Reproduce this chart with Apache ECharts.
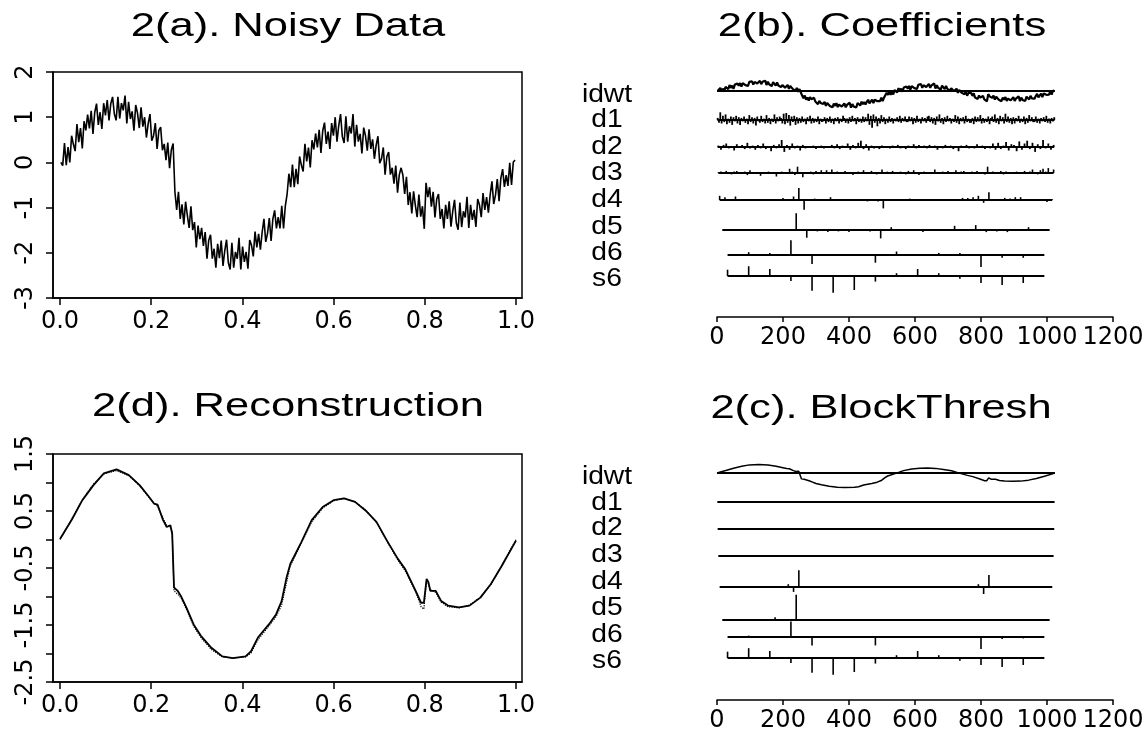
<!DOCTYPE html>
<html>
<head>
<meta charset="utf-8">
<script src="https://cdn.jsdelivr.net/npm/echarts@6/dist/echarts.min.js"></script>
<style>
html, body { margin: 0; padding: 0; background: #fff; }
#main { width: 1148px; height: 736px; }
</style>
</head>
<body>
<div id="main"></div>
<script>
// ---- data ----
// 2(a) noisy signal, evenly spaced on [0,1]
var noisyData = [
    0.0,-0.07,0.43,-0.06,0.34,0.0,0.59,0.40,0.25,0.85,0.45,0.76,0.31,0.91,0.71,1.06,
    0.75,1.14,0.63,1.11,1.30,0.83,1.11,0.74,1.31,1.04,1.38,0.93,1.30,1.45,1.07,0.93,
    1.45,0.97,1.31,1.15,1.48,0.86,1.34,0.96,1.13,0.70,1.27,1.09,0.76,1.22,0.79,1.00,
    0.55,0.86,1.07,0.48,0.59,0.87,0.30,0.71,0.78,0.27,0.41,0.05,0.44,-0.13,0.28,0.42,
    -0.65,-1.05,-0.65,-1.25,-0.93,-1.37,-0.87,-1.18,-1.45,-0.97,-1.50,-1.32,-1.88,-1.40,-1.70,-1.45,
    -1.85,-1.54,-2.13,-1.72,-1.60,-2.13,-1.91,-2.33,-1.80,-2.12,-1.73,-2.29,-1.95,-1.71,-2.22,-2.37,
    -1.78,-2.33,-1.98,-2.13,-1.67,-2.37,-1.86,-2.20,-1.98,-2.35,-1.72,-1.83,-2.08,-1.53,-1.88,-1.58,
    -1.93,-1.54,-1.25,-1.76,-1.57,-1.23,-1.74,-1.25,-1.06,-1.46,-1.21,-1.46,-0.96,-1.46,-0.96,-0.70,
    -0.25,-0.55,-0.05,-0.55,-0.14,-0.48,0.13,-0.06,-0.20,0.41,0.02,0.33,-0.11,0.49,0.29,0.64,
    0.33,0.72,0.21,0.70,0.88,0.41,0.68,0.30,0.87,0.59,1.0,0.46,0.82,1.07,0.57,0.43,
    1.02,0.46,0.80,0.64,1.07,0.35,0.83,0.46,0.63,0.20,0.77,0.59,0.26,0.73,0.30,0.51,
    0.08,0.38,0.58,-0.02,0.08,0.33,-0.27,0.13,0.23,-0.27,-0.12,-0.47,-0.07,-0.67,-0.27,-0.12,
    -0.28,-0.70,-0.32,-0.94,-0.66,-1.13,-0.64,-0.95,-1.21,-0.71,-1.20,-0.97,-1.47,-0.45,-0.77,-0.55,
    -0.98,-0.65,-1.22,-0.81,-0.70,-1.25,-1.03,-1.46,-0.94,-1.25,-0.86,-1.42,-1.08,-0.83,-1.34,-1.49,
    -0.89,-1.43,-1.08,-1.22,-0.76,-1.45,-0.94,-1.27,-1.05,-1.43,-0.81,-0.94,-1.21,-0.68,-1.05,-0.77,
    -1.11,-0.72,-0.42,-0.92,-0.72,-0.37,-0.86,-0.35,-0.15,-0.54,-0.28,-0.52,-0.01,-0.50,0.01,0.05
];

// 2(d) reconstruction (solid) and true curve (dotted)
var reconX = [0, 0.026, 0.049, 0.073, 0.096, 0.124, 0.151, 0.175, 0.195, 0.206,
    0.214, 0.226, 0.234, 0.242, 0.246, 0.250, 0.258, 0.265, 0.277, 0.293,
    0.309, 0.332, 0.356, 0.379, 0.407, 0.419, 0.434, 0.458, 0.474, 0.486,
    0.497, 0.505, 0.529, 0.552, 0.576, 0.600, 0.623, 0.647, 0.670, 0.694,
    0.717, 0.741, 0.757, 0.780, 0.792, 0.798, 0.804, 0.808, 0.812, 0.824,
    0.836, 0.851, 0.875, 0.898, 0.922, 0.945, 0.969, 1.0];
var reconY = [0.01, 0.35, 0.69, 0.95, 1.16, 1.23, 1.13, 0.95, 0.75, 0.63,
    0.61, 0.34, 0.22, 0.25, 0.10, -0.84, -0.90, -0.99, -1.19, -1.49,
    -1.69, -1.90, -2.05, -2.08, -2.05, -1.96, -1.72, -1.49, -1.31, -1.08,
    -0.66, -0.43, -0.05, 0.34, 0.57, 0.69, 0.72, 0.66, 0.51, 0.31,
    -0.02, -0.34, -0.52, -0.90, -1.11, -1.11, -0.69, -0.75, -0.90, -0.90,
    -1.08, -1.16, -1.19, -1.16, -1.02, -0.78, -0.46, -0.02];
var trueY = [0.0, 0.36, 0.70, 0.97, 1.15, 1.21, 1.12, 0.94, 0.74, 0.64,
    0.58, 0.37, 0.25, 0.21, 0.14, -0.90, -0.96, -1.02, -1.22, -1.52,
    -1.72, -1.93, -2.06, -2.08, -2.06, -1.99, -1.76, -1.52, -1.35, -1.15,
    -0.75, -0.46, -0.07, 0.31, 0.55, 0.68, 0.72, 0.66, 0.52, 0.30,
    -0.03, -0.36, -0.55, -0.92, -1.18, -1.22, -0.72, -0.78, -0.88, -0.93,
    -1.10, -1.18, -1.20, -1.15, -1.01, -0.79, -0.45, 0.0];

// 2(b) wavelet coefficients, one list per crystal
var rowNames = ['idwt', 'd1', 'd2', 'd3', 'd4', 'd5', 'd6', 's6'];
var levelSize = [1024, 512, 256, 128, 64, 32, 16, 16];
var coefD1 = [
    0.3,-0.4,1.1,-0.5,0.6,-0.3,0.8,-0.6,0.2,-0.4,0.5,-0.7,0.4,-0.2,0.6,-0.5,
    0.4,-0.7,0.3,-0.2,0.5,-0.4,0.2,-0.6,0.7,-0.3,0.4,-0.5,0.3,-0.8,0.5,-0.2,
    -0.4,0.6,-0.3,0.2,-0.5,0.7,-0.4,0.3,-0.6,0.2,-0.3,0.8,-0.5,0.4,-0.2,0.5,
    0.3,-0.5,0.9,-0.6,1.0,-0.4,0.7,-0.8,0.5,-0.3,0.6,-0.7,0.4,-0.5,0.3,-0.4,
    0.5,-0.3,0.2,-0.6,0.4,-0.2,0.6,-0.5,0.3,-0.4,0.2,-0.3,0.5,-0.6,0.2,-0.3,
    -0.2,0.4,-0.5,0.3,-0.3,0.5,-0.4,0.2,-0.6,0.3,-0.2,0.4,-0.5,0.2,-0.3,0.6,
    0.3,-0.4,0.2,-0.5,0.4,-0.3,0.6,-0.2,0.3,-0.6,0.4,-0.3,0.2,-0.4,0.5,-0.3,
    0.4,-0.2,0.9,-0.7,0.6,-1.1,0.8,-0.4,0.5,-0.9,0.3,-0.5,0.7,-0.3,0.4,-0.6,
    0.2,-0.4,0.5,-0.3,0.3,-0.5,0.2,-0.2,0.4,-0.3,0.6,-0.4,0.3,-0.2,0.5,-0.3,
    -0.3,0.5,-0.2,0.4,-0.6,0.3,-0.4,0.6,-0.3,0.2,-0.5,0.4,-0.2,0.3,-0.4,0.5,
    0.6,-0.3,0.4,-0.5,0.3,-0.7,0.5,-0.2,0.8,-0.4,0.3,-0.6,0.4,-0.3,0.6,-0.2,
    0.3,-0.5,0.2,-0.3,0.7,-0.4,0.5,-0.6,0.3,-0.2,0.4,-0.5,0.6,-0.3,0.2,-0.4,
    -0.4,0.3,-0.6,0.5,-0.3,0.4,-0.2,0.7,-0.5,0.3,-0.4,0.2,-0.3,0.5,-0.6,0.3,
    0.5,-0.3,0.8,-0.4,0.3,-0.6,0.6,-0.2,0.4,-0.5,0.9,-0.3,0.5,-0.4,0.3,-0.6,
    0.4,-0.5,0.3,-0.2,0.6,-0.4,0.2,-0.3,0.5,-0.6,0.3,-0.4,0.7,-0.2,0.4,-0.3,
    -0.3,0.5,-0.4,0.2,-0.5,0.3,-0.2,0.4,-0.3,0.6,-0.4,0.2,-0.5,0.3,-0.2,0.4
];
var coefD2 = [
    0.2,-0.4,0.3,0.5,-0.2,0.1,-0.5,0.4,-0.1,0.3,-0.3,0.6,-0.2,0.2,-0.4,0.3,
    -0.2,0.5,-0.3,0.1,-0.6,0.3,-0.2,0.4,1.0,-0.7,0.3,-0.4,0.5,-0.2,0.2,-0.5,
    0.3,-0.2,0.1,-0.1,0.2,-0.3,0.1,0.2,-0.2,0.1,-0.1,0.3,-0.2,0.4,-0.3,0.2,
    -0.1,0.5,-0.4,0.3,-0.2,0.6,0.9,-0.3,0.4,-0.5,0.2,-0.2,0.1,-0.3,0.2,-0.1,
    0.1,-0.2,0.2,-0.1,0.3,-0.2,0.1,-0.3,0.2,-0.1,0.4,-0.2,0.3,-0.1,0.2,-0.2,
    0.3,-0.1,0.2,-0.4,0.1,-0.2,0.3,-0.1,0.2,-0.3,0.1,-0.6,0.2,-0.1,0.3,-0.2,
    0.1,-0.2,0.4,-0.1,0.2,-0.3,0.1,-0.2,0.5,-0.4,0.6,-0.3,0.2,0.7,-0.5,0.4,
    0.3,-0.6,0.8,-0.4,0.5,0.9,-0.3,0.6,-0.7,0.4,-0.3,1.0,-0.2,0.5,-0.4,0.3
];
var coefD3 = [
    0.1,0.2,-0.1,0.3,0.1,-0.2,0.2,0.3,-0.1,0.1,0.2,-0.3,0.4,-0.1,0.0,0.1,
    -0.4,0.1,0.0,0.2,-0.1,0.1,-0.5,0.1,0.2,0.0,0.1,0.6,0.2,-0.3,0.9,0.1,
    -0.6,0.1,0.0,0.2,-0.2,0.3,0.1,0.4,0.0,0.4,0.1,0.5,0.0,0.2,-0.1,0.0,
    0.3,0.1,0.0,-0.3,0.1,0.2,0.0,0.4,0.1,-0.1,0.3,0.0,-0.2,0.1,0.5,0.0,
    0.2,0.1,0.3,-0.1,0.0,0.2,0.1,-0.2,0.3,0.0,0.4,0.1,-0.3,0.0,0.2,0.1,
    0.0,0.1,0.5,0.0,0.1,0.2,-0.1,0.3,0.0,0.1,0.4,0.0,0.2,0.3,-0.1,0.1,
    0.2,0.0,0.3,0.1,0.0,-0.2,0.9,0.1,0.2,0.0,0.1,0.3,-0.2,0.2,0.1,-0.1,
    0.0,0.2,-0.1,0.1,0.3,0.0,0.2,0.5,0.1,-0.2,0.4,0.6,0.2,0.7,0.1,0.5
];
var coefD4 = [
    0.6,0.4,0.1,0.5,0.0,0.1,0.0,0.0,0.1,0.0,-0.1,0.0,0.3,0.1,0.5,1.7,
    -1.4,0.0,0.2,0.0,0.0,0.4,-0.1,0.0,0.1,0.0,0.1,0.0,-0.2,0.1,-0.2,-1.2,
    0.0,0.1,0.0,0.0,0.2,0.0,0.0,0.1,0.0,0.1,0.0,0.0,0.1,0.0,0.3,0.3,
    0.4,0.6,-0.4,1.1,0.1,0.0,0.3,0.2,0.4,0.4,0.0,0.0,0.0,0.0,-0.3,0.1
];
var coefD5 = [0.0,0.0,0.1,0.0,0.1,-0.1,0.1,2.4,-1.1,-0.2,-0.3,-0.2,-0.3,0.0,-0.2,-1.2,
    0.4,0.1,0.0,-0.3,0.0,-0.1,0.6,0.0,0.7,-0.3,-0.2,-0.3,-0.1,0.4,0.1,0.0];
var coefD6 = [0.0,0.4,0.3,2.1,-1.3,0.0,-0.1,-1.1,0.5,0.1,0.3,0.3,-1.7,-0.4,-0.4,0.0];
var coefS6 = [0.9,1.4,1.0,-0.7,-2.1,-2.4,-2.0,-0.8,0.4,1.0,0.4,-0.4,-1.0,-1.3,-1.0,0.0];

// 2(c) coefficients kept by block thresholding: [index, value]
var keptD1 = [];
var keptD2 = [];
var keptD3 = [];
var keptD4 = [[13, 0.4], [14, -0.7], [15, 2.4], [46, 0.1], [47, 0.1], [49, 0.4], [50, -1.0], [51, 1.7]];
var keptD5 = [[5, 0.4], [7, 3.6]];
var keptD6 = [[1, 0.2], [3, 2.2], [4, -1.2], [5, 0.1], [7, -1.2], [12, -1.7], [13, -0.3], [14, -0.2]];

var unitTicks = [0, 0.2, 0.4, 0.6, 0.8, 1.0];

// ---- layout ----
var TICK_FONT = '"DejaVu Sans", Verdana, sans-serif';
var TEXT_FONT = '"Liberation Sans", Arial, sans-serif';
var black = '#000';
var grids = [], xAxes = [], yAxes = [], series = [], graphics = [];

function addGrid(g, xa, ya) {
    var i = grids.length;
    grids.push(g);
    xa.gridIndex = i; ya.gridIndex = i;
    xAxes.push(xa); yAxes.push(ya);
    return i;
}

// text drawn a bit wider than the font, as in the scanned figure
function addText(txt, x, y, size, sx) {
    graphics.push({
        type: 'text', x: x, y: y, scaleX: sx || 1,
        style: { text: txt, font: size + 'px ' + TEXT_FONT, fill: black, align: 'center', verticalAlign: 'middle' }
    });
}

function unitXAxis() {
    return {
        type: 'value', min: -0.0154, max: 1.0132,
        axisLine: { show: true, onZero: false, lineStyle: { color: black, width: 1.5 } },
        axisTick: { show: true, customValues: unitTicks, length: 7, lineStyle: { color: black, width: 1.5 } },
        axisLabel: { customValues: unitTicks, color: black, fontSize: 24, fontFamily: TICK_FONT, margin: 12,
            formatter: function (v) { return v.toFixed(1); } },
        splitLine: { show: false }
    };
}

function leftYAxis(min, max, step, fmt) {
    return {
        type: 'value', min: min, max: max, interval: step,
        axisLine: { show: true, onZero: false, lineStyle: { color: black, width: 1.5 } },
        axisTick: { show: true, length: 7, lineStyle: { color: black, width: 1.5 } },
        axisLabel: { rotate: 90, color: black, fontSize: 24, fontFamily: TICK_FONT, margin: 15,
            showMinLabel: true, showMaxLabel: true, formatter: fmt },
        splitLine: { show: false }
    };
}

var frame = { show: true, borderColor: black, borderWidth: 1.5, backgroundColor: 'transparent' };

// 2(a)
var ga = addGrid(Object.assign({ left: 53, top: 72, width: 469, height: 226 }, frame),
    unitXAxis(), leftYAxis(-3, 2, 1, function (v) { return String(v); }));
series.push({
    type: 'line', xAxisIndex: ga, yAxisIndex: ga, showSymbol: false, clip: true,
    lineStyle: { color: black, width: 1.6 },
    data: noisyData.map(function (v, k) { return [(k + 0.5) / noisyData.length, v]; })
});

// 2(d)
var gd = addGrid(Object.assign({ left: 53, top: 454, width: 469, height: 228 }, frame),
    unitXAxis(), leftYAxis(-2.5, 1.5, 0.5, function (v) {
        return Math.round(v * 2) % 2 !== 0 ? v.toFixed(1) : '';
    }));
series.push({
    type: 'line', xAxisIndex: gd, yAxisIndex: gd, showSymbol: false,
    lineStyle: { color: black, width: 1.2, type: 'dotted' },
    data: reconX.map(function (x, k) { return [x, trueY[k]]; })
});
series.push({
    type: 'line', xAxisIndex: gd, yAxisIndex: gd, showSymbol: false,
    lineStyle: { color: black, width: 1.8 },
    data: reconX.map(function (x, k) { return [x, reconY[k]]; })
});

// stacked coefficient rows (7 px per unit, each row +-5 units)
var ROW_HALF = 35;
function addRow(baseY, idx, curve, spikes, curveWidth) {
    var g = addGrid({ left: 717, width: 396, top: baseY - ROW_HALF, height: ROW_HALF * 2 },
        { type: 'value', min: 0, max: 1200, show: false, splitLine: { show: false } },
        { type: 'value', min: -5, max: 5, show: false, splitLine: { show: false } });
    var n = levelSize[idx];
    var first = idx === 0 ? 0 : 512 / n;
    var last = idx === 0 ? 1024 : 1024 - 512 / n;
    series.push({
        type: 'line', xAxisIndex: g, yAxisIndex: g, showSymbol: false, silent: true,
        lineStyle: { color: black, width: 1.8 },
        data: [[first, 0], [last, 0]]
    });
    if (curve) {
        series.push({
            type: 'line', xAxisIndex: g, yAxisIndex: g, showSymbol: false, clip: false,
            lineStyle: { color: black, width: curveWidth }, data: curve
        });
    }
    if (spikes && spikes.length) {
        series.push({
            type: 'bar', xAxisIndex: g, yAxisIndex: g, barWidth: idx <= 2 ? 1.8 : 1.6,
            itemStyle: { color: black }, data: spikes
        });
    }
}

function spikesFromList(arr) {
    return arr.map(function (v, k) { return [(k + 0.5) * 1024 / arr.length, v]; });
}
function spikesFromKept(pairs, idx) {
    var step = 1024 / levelSize[idx];
    return pairs.map(function (p) { return [(p[0] + 0.5) * step, p[1]]; });
}

function addCoefAxis(lineY) {
    addGrid({ left: 717, width: 396, top: lineY - 20, height: 20 },
        { type: 'value', min: 0, max: 1200, interval: 200, position: 'bottom',
          axisLine: { show: true, onZero: false, lineStyle: { color: black, width: 1.5 } },
          axisTick: { show: true, length: 5, lineStyle: { color: black, width: 1.5 } },
          axisLabel: { color: black, fontSize: 24, fontFamily: TICK_FONT, margin: 9, showMaxLabel: true,
              hideOverlap: false, formatter: function (v) { return String(v); } },
          splitLine: { show: false } },
        { type: 'value', min: 0, max: 1, show: false, splitLine: { show: false } });
}

// 2(b)
var baseB = [91, 120, 147, 173, 200, 230, 255, 276];
var labelB = [95, 120, 147, 173, 200, 227, 253, 279];
var coefB = [null, coefD1, coefD2, coefD3, coefD4, coefD5, coefD6, coefS6];
addRow(baseB[0], 0, noisyData.map(function (v, k) { return [(k + 0.5) * 1024 / noisyData.length, v]; }), null, 2.2);
for (var i = 1; i < 8; i++) addRow(baseB[i], i, null, spikesFromList(coefB[i]));
addCoefAxis(317);

// 2(c)
var baseC = [473, 502, 529, 556, 587, 620, 637, 658];
var labelC = [477, 503, 528, 555, 582, 608, 635, 661];
var keptC = [null, keptD1, keptD2, keptD3, keptD4, keptD5, keptD6, null];
addRow(baseC[0], 0, reconX.map(function (x, k) { return [x * 1024, reconY[k]]; }), null, 1.5);
for (var j = 1; j < 7; j++) addRow(baseC[j], j, null, spikesFromKept(keptC[j], j));
addRow(baseC[7], 7, null, spikesFromList(coefS6));
addCoefAxis(700);

for (var r = 0; r < 8; r++) {
    addText(rowNames[r], 607, labelB[r], 25, 1.13);
    addText(rowNames[r], 607, labelC[r], 25, 1.13);
}

addText('2(a). Noisy Data', 288, 27, 33.5, 1.3);
addText('2(b). Coefficients', 882, 27, 33.5, 1.3);
addText('2(d). Reconstruction', 288, 407, 33.5, 1.3);
addText('2(c). BlockThresh', 881, 409, 33.5, 1.3);

var chart = echarts.init(document.getElementById('main'), null, { renderer: 'canvas' });
chart.setOption({
    backgroundColor: '#fff',
    animation: false,
    grid: grids,
    xAxis: xAxes,
    yAxis: yAxes,
    series: series,
    graphic: graphics
});
</script>
</body>
</html>
